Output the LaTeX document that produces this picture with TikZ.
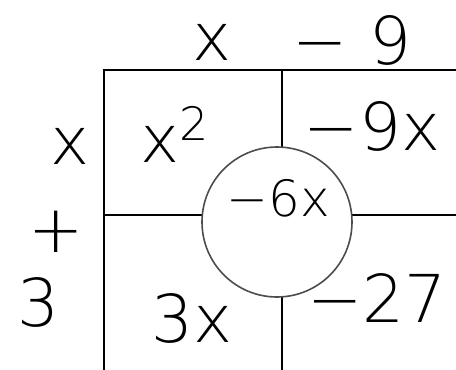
\documentclass[tikz,border=0pt]{standalone}
\usepackage{fontspec}
\setmainfont{DejaVu Sans ExtraLight}
\begin{document}
\begin{tikzpicture}[x=1pt,y=-1pt,
  grid/.style={line width=1.6pt,black},
  ring/.style={draw=black!70,line width=1.6pt,fill=white},
  big/.style={font=\fontsize{66}{66}\selectfont,inner sep=0pt},
  mid/.style={font=\fontsize{50}{50}\selectfont,inner sep=0pt}]
\useasboundingbox (0,0) rectangle (456,370);
\coordinate (tl) at (104,70);
\coordinate (tr) at (456,70);
\coordinate (bl) at (104,370);
\coordinate (vt) at (282,70);
\coordinate (vb) at (282,370);
\coordinate (hl) at (104,215);
\coordinate (hr) at (456,215);
\draw[grid] (bl) -- (tl) -- (tr);
\draw[grid] (vt) -- (vb);
\draw[grid] (hl) -- (hr);
\node[ring,circle,minimum size=150pt,inner sep=0pt] (c) at (277,222) {};
\node[big] (tx) at (212,42) {x};
\node[big] (tm9) at (352,40) {− 9};
\node[big] (lx) at (70,146) {x};
\node[big] (lp) at (56,232) {+};
\node[big] (l3) at (38,302) {3};
\node[big] (x2) at (175,134) {x\raisebox{22pt}{\fontsize{46}{46}\selectfont 2}};
\node[big] (m9x) at (372,126) {−9x};
\node[mid] (m6x) at (278,198) {−6x};
\node[big] (t3x) at (192,318) {3x};
\node[big] (m27) at (377,298) {−27};
\end{tikzpicture}
\end{document}
